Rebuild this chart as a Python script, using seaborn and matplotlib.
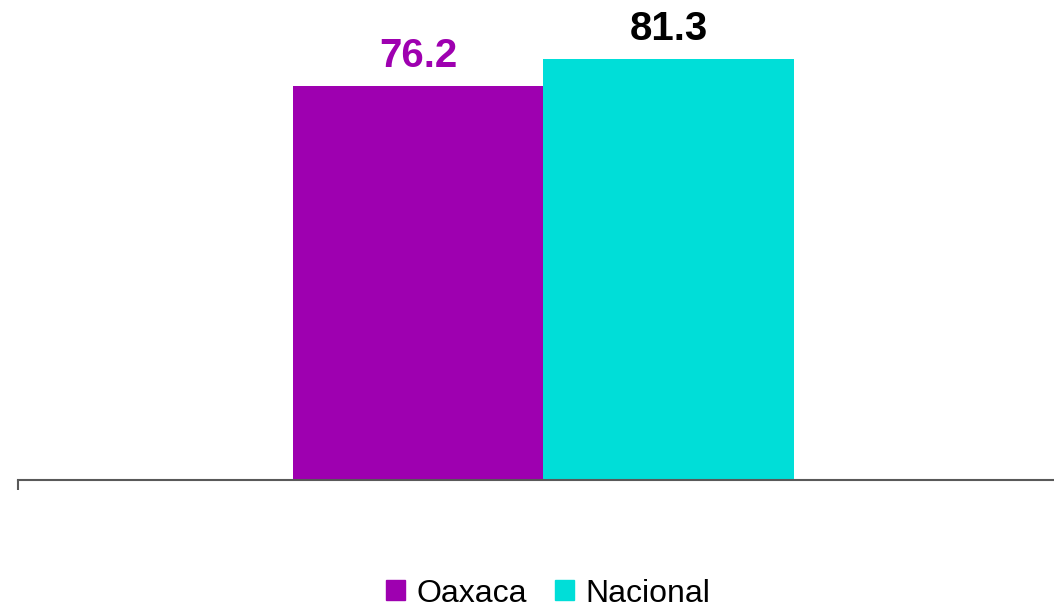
import numpy as np
import pandas as pd
import seaborn as sns
import matplotlib.pyplot as plt

# data
series = ["Oaxaca", "Nacional"]
values = [76.2, 81.3]
colors = ["#9E00B0", "#00DED8"]
label_colors = ["#9E00B0", "#000000"]

df = pd.DataFrame({"grupo": [""] * len(series), "serie": series, "valor": values})

sns.set_theme(style="white")
plt.rcParams["font.family"] = ["Liberation Sans", "DejaVu Sans"]
plt.rcParams["text.color"] = "black"

fig = plt.figure(figsize=(10.54, 6.07), dpi=100)
ax = fig.add_axes([18 / 1054, 127 / 607, 1036 / 1054, 0.767])

sns.barplot(data=df, x="grupo", y="valor", hue="serie", palette=colors,
            width=0.8, saturation=1, linewidth=0, ax=ax, legend=True)

for cont, c in zip(ax.containers, label_colors):
    ax.bar_label(cont, fmt="%.1f", color=c, fontsize=29, fontweight="bold", padding=8)

xl = (-0.8394, 0.8155)
ax.set_xlim(*xl)
ax.set_ylim(0, 90)
ax.set_xticks([xl[0]])
ax.set_xticklabels([""])
ax.tick_params(axis="x", length=7, width=1.5, color="#595959", direction="out", bottom=True)
ax.set_yticks([])
ax.set_xlabel("")
ax.set_ylabel("")
for s in ["top", "right", "left"]:
    ax.spines[s].set_visible(False)
ax.spines["bottom"].set_color("#595959")
ax.spines["bottom"].set_linewidth(1.5)

ax.legend_.remove()
handles = [plt.Rectangle((0, 0), 1, 1, color=c) for c in colors]
fig.legend(handles, series, loc="lower center", bbox_to_anchor=(0.52, -0.05),
           ncol=2, frameon=False, fontsize=23, handlelength=0.6, handleheight=0.6,
           handletextpad=0.35, columnspacing=0.9, labelcolor="black")

fig.savefig("out.png", dpi=100)
